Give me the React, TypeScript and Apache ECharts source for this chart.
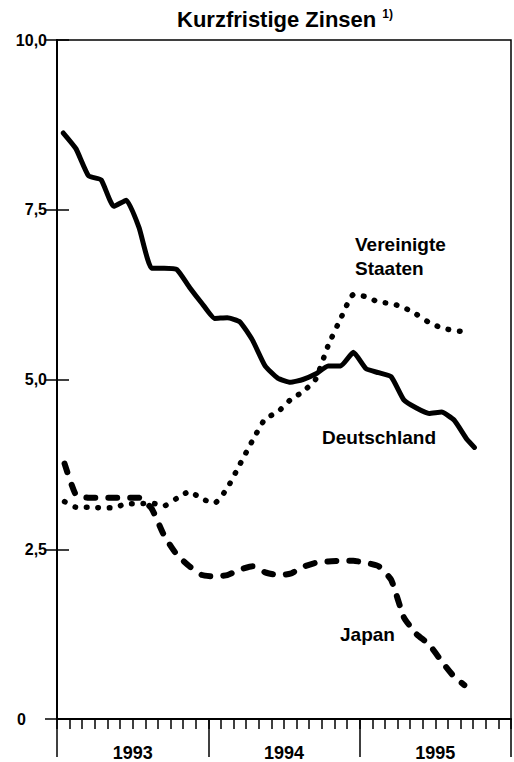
import React, { useEffect, useRef } from "react";
import * as echarts from "echarts";

// x positions: months since Jan 1993 (mid-month)
const deMonths = [0.5,1.5,2.5,3.5,4.5,5.5,6.5,7.5,8.5,9.5,10.5,11.5,12.5,13.5,14.5,15.5,16.5,17.5,18.5,19.5,20.5,21.5,22.5,23.5,24.5,25.5,26.5,27.5,28.5,29.5,30.5,31.5,32.5,33.1];
const deValues = [8.63,8.4,8.0,7.94,7.55,7.64,7.24,6.64,6.64,6.62,6.36,6.12,5.9,5.91,5.85,5.58,5.2,5.02,4.96,5.0,5.08,5.2,5.2,5.4,5.16,5.1,5.04,4.7,4.58,4.5,4.52,4.4,4.12,4.0];

const usMonths = [0.6,1.5,2.5,3.5,4.5,5.5,6.5,7.5,8.5,9.5,10.5,11.5,12.5,13.5,14.5,15.5,16.5,17.5,18.5,19.5,20.5,21.5,22.5,23.5,24.5,25.5,26.5,27.5,28.5,29.5,30.5,31.5,32.0];
const usValues = [3.2,3.12,3.12,3.11,3.11,3.17,3.17,3.18,3.14,3.25,3.35,3.24,3.18,3.4,3.75,4.1,4.42,4.52,4.7,4.82,5.0,5.5,5.9,6.25,6.22,6.14,6.12,6.06,5.96,5.84,5.76,5.72,5.71];

const jpMonths = [0.6,1.5,2.5,3.5,4.5,5.5,6.5,7.5,8.5,9.5,10.5,11.5,12.5,13.5,14.5,15.5,16.5,17.5,18.5,19.5,20.5,21.5,22.5,23.5,24.5,25.5,26.5,27.5,28.5,29.5,30.5,31.5,32.3];
const jpValues = [3.76,3.3,3.26,3.26,3.26,3.26,3.26,3.1,2.7,2.42,2.25,2.12,2.1,2.12,2.2,2.25,2.16,2.12,2.14,2.24,2.3,2.32,2.33,2.33,2.3,2.25,2.05,1.5,1.25,1.1,0.85,0.62,0.5];

const years = ["1993", "1994", "1995"];
const titleText = "Kurzfristige Zinsen";
const seriesNames = ["Deutschland", "Vereinigte Staaten", "Japan"];

const FONT = "'Liberation Sans', Arial, Helvetica, sans-serif";

const pairs = (xs: number[], ys: number[]) => xs.map((x, i) => [x, ys[i]]);

export default function App() {
  const ref = useRef<HTMLDivElement>(null);
  useEffect(() => {
    if (!ref.current) return;
    const chart = echarts.init(ref.current, undefined, { renderer: "svg" });
    chart.setOption({
      animation: false,
      backgroundColor: "#fff",
      title: {
        text: titleText + " {sup|1)}",
        left: 172,
        top: 3,
        textStyle: {
          fontFamily: FONT,
          fontWeight: "bold",
          fontSize: 22,
          color: "#000",
          rich: {
            sup: { fontFamily: FONT, fontWeight: "bold", fontSize: 12, verticalAlign: "top", padding: [0, 0, 10, 0], color: "#000" },
          },
        },
      },
      grid: { left: 57, right: 3, top: 40, bottom: 43, show: true, borderColor: "#000", borderWidth: 1.5 },
      xAxis: [
        {
          type: "value",
          min: 0,
          max: 36,
          interval: 1,
          position: "bottom",
          axisLine: { show: true, onZero: false, lineStyle: { color: "#000", width: 2 } },
          axisTick: { show: true, inside: false, length: 10, lineStyle: { color: "#000", width: 1.5 } },
          axisLabel: {
            show: true,
            margin: 25,
            fontFamily: FONT,
            fontWeight: "bold",
            fontSize: 18,
            color: "#000",
            formatter: (v: number) => (v % 12 === 6 ? years[Math.floor(v / 12)] : ""),
          },
          splitLine: { show: false },
        },
        {
          type: "value",
          min: 0,
          max: 36,
          interval: 12,
          position: "bottom",
          axisLine: { show: false },
          axisTick: { show: true, inside: false, length: 38, lineStyle: { color: "#000", width: 1.5 } },
          axisLabel: { show: false },
          splitLine: { show: false },
        },
      ],
      yAxis: [
        {
          type: "value",
          min: 0,
          max: 10,
          interval: 2.5,
          position: "left",
          axisLine: { show: true, lineStyle: { color: "#000", width: 2 } },
          axisTick: { show: true, inside: true, length: 12, lineStyle: { color: "#000", width: 1.5 } },
          axisLabel: {
            margin: 10,
            fontFamily: FONT,
            fontWeight: "bold",
            fontSize: 16,
            color: "#000",
            formatter: (v: number) => (v === 0 ? "{z|0}" : v.toFixed(1).replace(".", ",")),
            rich: { z: { fontFamily: FONT, fontWeight: "bold", fontSize: 16, color: "#000", padding: [0, 21, 0, 0] } },
          },
          splitLine: { show: false },
        },
        {
          type: "value",
          min: 0,
          max: 10,
          interval: 2.5,
          position: "right",
          axisLine: { show: true, lineStyle: { color: "#000", width: 2 } },
          axisTick: { show: true, inside: true, length: 12, lineStyle: { color: "#000", width: 1.5 } },
          axisLabel: { show: false },
          splitLine: { show: false },
        },
      ],
      series: [
        {
          name: seriesNames[0],
          type: "line",
          xAxisIndex: 0,
          yAxisIndex: 0,
          data: pairs(deMonths, deValues),
          showSymbol: false,
          smooth: 0.15,
          lineStyle: { color: "#000", width: 5, cap: "round", join: "round" },
        },
        {
          name: seriesNames[1],
          type: "line",
          xAxisIndex: 0,
          yAxisIndex: 0,
          data: pairs(usMonths, usValues),
          showSymbol: false,
          smooth: 0.15,
          lineStyle: { color: "#000", width: 5.5, type: [0.5, 11], cap: "round", join: "round" },
        },
        {
          name: seriesNames[2],
          type: "line",
          xAxisIndex: 0,
          yAxisIndex: 0,
          data: pairs(jpMonths, jpValues),
          showSymbol: false,
          smooth: 0.15,
          lineStyle: { color: "#000", width: 6, type: [9, 13], cap: "round", join: "round" },
        },
      ],
      graphic: [
        {
          type: "text",
          left: 355,
          top: 232,
          style: { text: "Vereinigte\nStaaten", fontFamily: FONT, fontWeight: "bold", fontSize: 19, lineHeight: 24, fill: "#000" },
        },
        {
          type: "text",
          left: 322,
          top: 428,
          style: { text: seriesNames[0], fontFamily: FONT, fontWeight: "bold", fontSize: 19, fill: "#000" },
        },
        {
          type: "text",
          left: 340,
          top: 625,
          style: { text: seriesNames[2], fontFamily: FONT, fontWeight: "bold", fontSize: 19, fill: "#000" },
        },
      ],
    });
    return () => chart.dispose();
  }, []);
  return <div ref={ref} style={{ width: 514, height: 762, position: "absolute", left: 0, top: 0 }} />;
}
